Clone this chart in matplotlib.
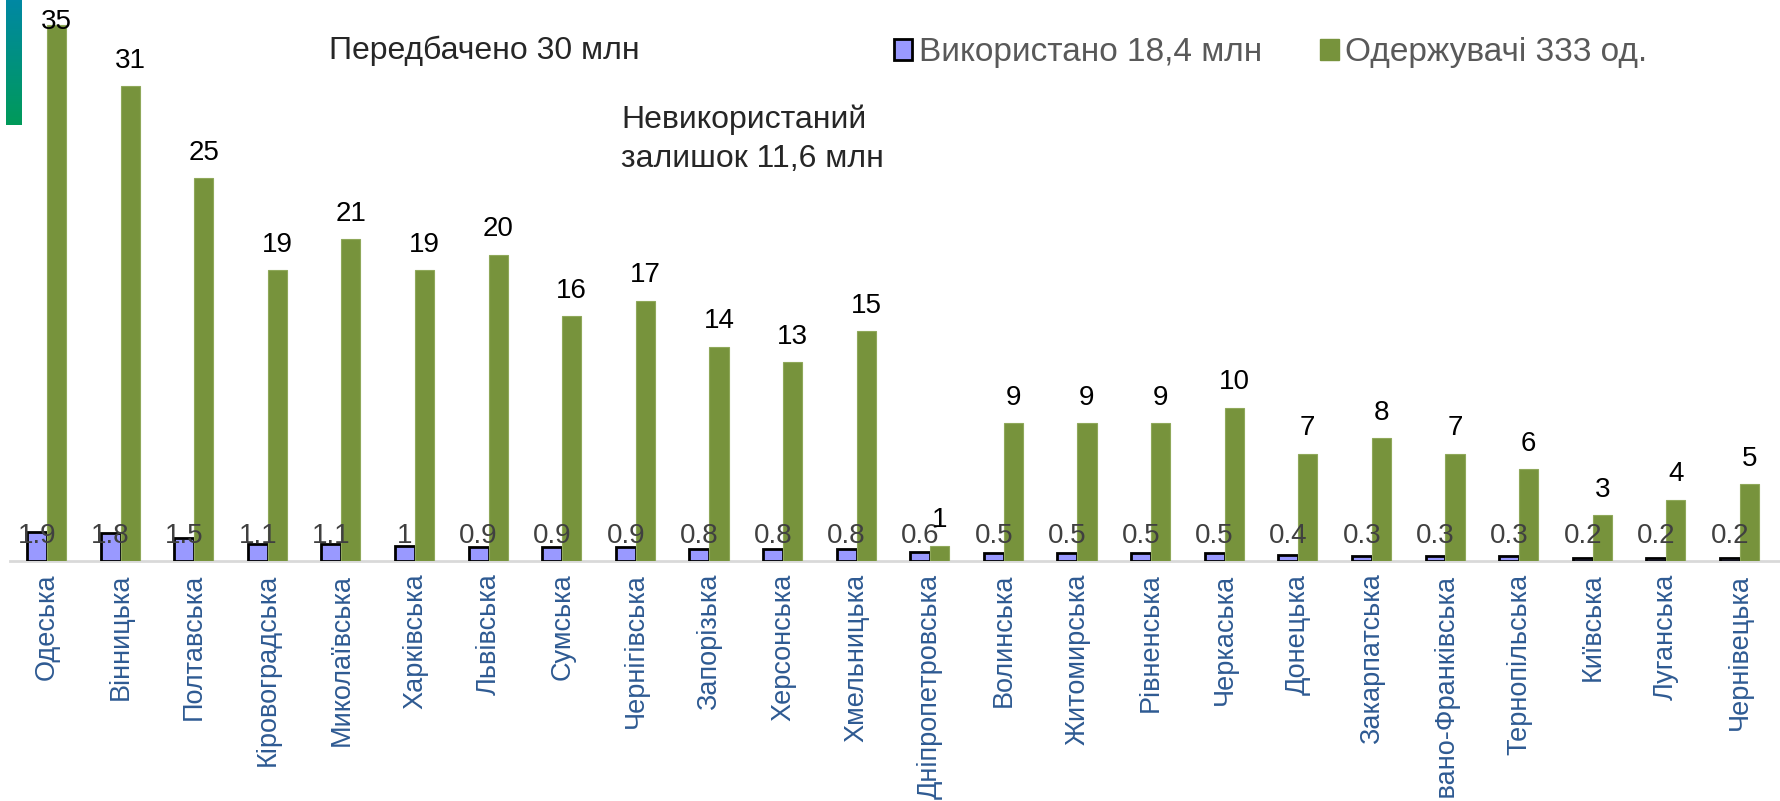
import numpy as np
import matplotlib
matplotlib.use('Agg')
import matplotlib.pyplot as plt
from matplotlib.patches import Patch

plt.rcParams['font.family'] = ['Liberation Sans', 'DejaVu Sans']

# data
regions = ['Одеська', 'Вінницька', 'Полтавська', 'Кіровоградська', 'Миколаївська',
           'Харківська', 'Львівська', 'Сумська', 'Чернігівська', 'Запорізька',
           'Херсонська', 'Хмельницька', 'Дніпропетровська', 'Волинська',
           'Житомирська', 'Рівненська', 'Черкаська', 'Донецька', 'Закарпатська',
           'Івано-Франківська', 'Тернопільська', 'Київська', 'Луганська', 'Чернівецька']
used = [1.9, 1.8, 1.5, 1.1, 1.1, 1, 0.9, 0.9, 0.9, 0.8, 0.8, 0.8,
        0.6, 0.5, 0.5, 0.5, 0.5, 0.4, 0.3, 0.3, 0.3, 0.2, 0.2, 0.2]
recipients = [35, 31, 25, 19, 21, 19, 20, 16, 17, 14, 13, 15,
              1, 9, 9, 9, 10, 7, 8, 7, 6, 3, 4, 5]
used_label = 'Використано 18,4 млн'
recip_label = 'Одержувачі 333 од.'

purple = '#9999ff'
green = '#77933c'
gray_txt = '#404040'

fig = plt.figure(figsize=(17.81, 8.01), dpi=100)
ax = fig.add_axes([0.0057, 0.2996, 0.9943, 0.698])

x = np.arange(len(regions))
w_p = 0.27
w_g = 0.26
ax.bar(x - w_p / 2, used, width=w_p, color=purple, edgecolor='black', linewidth=2, zorder=3)
ax.bar(x + w_g / 2, recipients, width=w_g, color=green, edgecolor='#8fa85a', linewidth=0.8, zorder=3)

# value labels
for i in range(len(regions)):
    ax.text(x[i] - w_p / 2, 1.65, '{:g}'.format(used[i]), ha='center', va='center',
            fontsize=20, color=gray_txt, zorder=4)
    ax.text(x[i] + w_g / 2, min(recipients[i] + 1.2, 34.7), str(recipients[i]),
            ha='center', va='baseline', fontsize=20, color='black', zorder=4)

ax.set_xlim(-0.5, len(regions) - 0.44)
ax.set_ylim(0, 36.5)
ax.set_xticks(x)
ax.set_xticklabels(regions, rotation=90, fontsize=19.5, color='#2e5a92', va='top', ha='center')
ax.tick_params(axis='x', length=0, pad=9)
ax.set_yticks([])
for s in ['top', 'right', 'left']:
    ax.spines[s].set_visible(False)
ax.spines['bottom'].set_color('#d9d9d9')
ax.spines['bottom'].set_linewidth(2)

# text notes
fig.text(329 / 1781, 1 - 51 / 801, 'Передбачено 30 млн', fontsize=23, color='#262626',
         ha='left', va='center')
fig.text(621 / 1781, 1 - 139 / 801, 'Невикористаний\nзалишок 11,6 млн', fontsize=23,
         color='#262626', ha='left', va='center', linespacing=1.4)

handles = [Patch(facecolor=purple, edgecolor='black', linewidth=2),
           Patch(facecolor=green, edgecolor=green)]
fig.legend(handles, [used_label, recip_label], loc='center left',
           bbox_to_anchor=(877 / 1781, 1 - 53 / 801), ncol=2, frameon=False,
           fontsize=24, handlelength=0.55, handleheight=0.6, handletextpad=0.2,
           columnspacing=1.75, borderpad=0, labelcolor='#595959')

# teal gradient strip in the corner
deco = fig.add_axes([6 / 1781, 1 - 125 / 801, 16 / 1781, 125 / 801])
grad = np.linspace(0, 1, 100).reshape(-1, 1)
cmap = matplotlib.colors.LinearSegmentedColormap.from_list('t', ['#0088a3', '#009a5a'])
deco.imshow(grad, aspect='auto', cmap=cmap)
deco.axis('off')

fig.savefig('out.png', dpi=100)
